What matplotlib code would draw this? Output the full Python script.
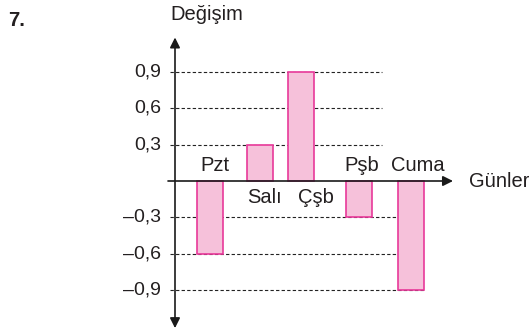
import matplotlib
matplotlib.use("Agg")
import matplotlib.pyplot as plt

days = ["Pzt", "Salı", "Çşb", "Pşb", "Cuma"]
changes = [-0.6, 0.3, 0.9, -0.3, -0.9]
tick_values = [0.9, 0.6, 0.3, -0.3, -0.6, -0.9]
tick_labels = ["0,9", "0,6", "0,3", "–0,3", "–0,6", "–0,9"]

# layout (x in pixel-like units relative to the y axis)
bar_x = [35, 85, 126, 184, 235.5]
bar_w = 26
label_x = [40, 89.5, 141, 187, 242.5]
label_above = [True, False, False, True, True]

plt.rcParams['font.family'] = ['Liberation Sans', 'DejaVu Sans']
txt = "#231f20"

fig = plt.figure(figsize=(5.29, 3.31), dpi=100)
ax = fig.add_axes([0, 0, 1, 1])
S = 121.1
ax.set_xlim(-175, 354)
ax.set_ylim(-(331 - 181) / S, 181 / S)
ax.axis('off')

pink = "#F6C1DA"
mag = "#E8399A"

ax.bar(bar_x, changes, width=bar_w, color=pink, edgecolor=mag, linewidth=1.2, zorder=2)

# dashed grid lines and tick labels
for v, lbl in zip(tick_values, tick_labels):
    end = 207 if v > 0 else 250
    ax.plot([-5, end], [v, v], color="#222222", lw=0.8, ls=(0, (3, 2)), zorder=1)
    ax.text(-14, v, lbl, ha='right', va='center', fontsize=14, color=txt)

# axes with arrows
ax.annotate("", xy=(0, 1.185), xytext=(0, -1.215),
            arrowprops=dict(arrowstyle='<|-|>', color='#1a1a1a', lw=1.2,
                            mutation_scale=15, shrinkA=0, shrinkB=0), zorder=3)
ax.annotate("", xy=(278, 0), xytext=(-7, 0),
            arrowprops=dict(arrowstyle='-|>', color='#1a1a1a', lw=1.2,
                            mutation_scale=15, shrinkA=0, shrinkB=0), zorder=3)

for x, d, above in zip(label_x, days, label_above):
    y = (181 - 171) / S if above else -(203 - 181) / S
    ax.text(x, y, d, ha='center', va='baseline', fontsize=14.5, color=txt)

ax.text(294, 0, "Günler", ha='left', va='center', fontsize=14.5, color=txt)
ax.text(32, (181 - 15) / S, "Değişim", ha='center', va='center', fontsize=14.5, color=txt)
ax.text(-167, (181 - 20) / S, "7.", ha='left', va='center', fontsize=14.5, fontweight='bold', color=txt)

fig.savefig("out.png", dpi=100)
